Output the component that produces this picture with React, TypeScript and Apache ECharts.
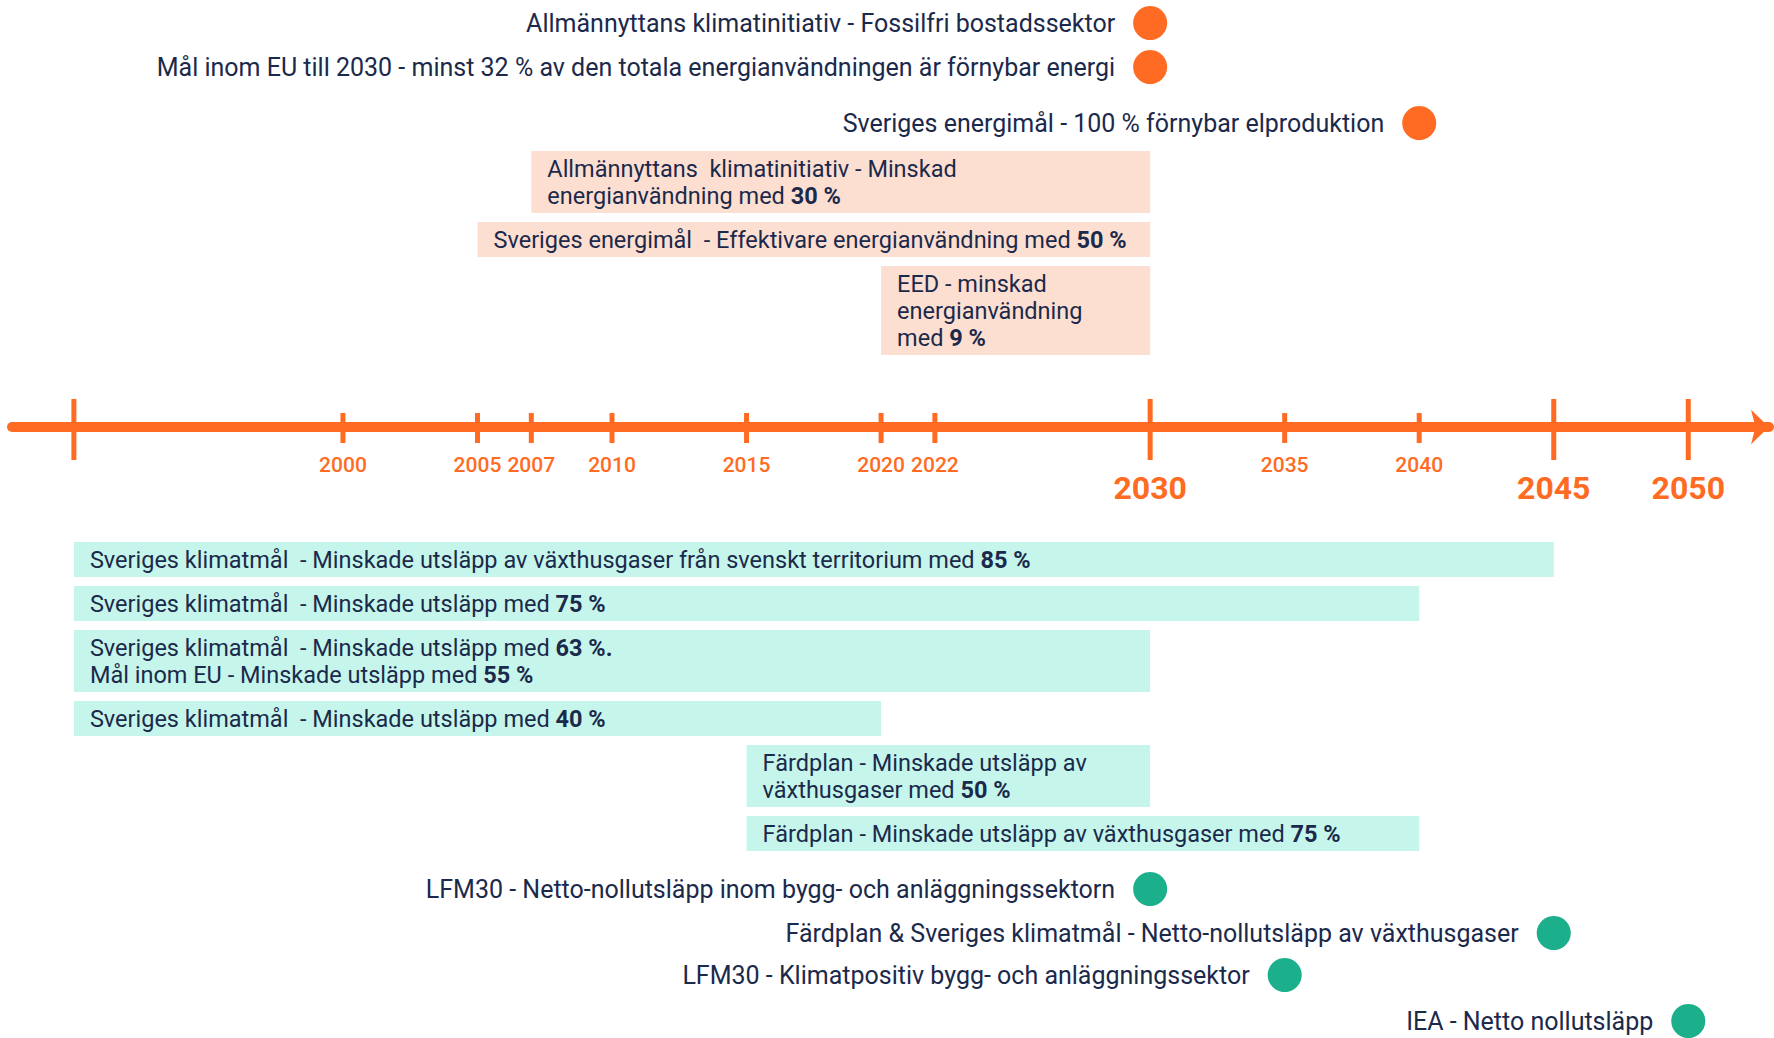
import React, { useEffect, useRef } from "react";
import * as echarts from "echarts";

// ---------------- DATA ----------------
const TICK_YEARS = [1990, 2000, 2005, 2007, 2010, 2015, 2020, 2022, 2030, 2035, 2040, 2045, 2050];
const TICK_LABELS = ["", "2000", "2005", "2007", "2010", "2015", "2020", "2022", "2030", "2035", "2040", "2045", "2050"];
const LONG_TICK_YEARS = [1990, 2030, 2045, 2050];
const BIG_LABEL_YEARS = [2030, 2045, 2050];

const ENERGY_GOALS = [
  "Allmännyttans klimatinitiativ - Fossilfri bostadssektor",
  "Mål inom EU till 2030 - minst 32 % av den totala energianvändningen är förnybar energi",
  "Sveriges energimål - 100 % förnybar elproduktion",
];
const ENERGY_GOAL_YEARS = [2030, 2030, 2040];

const ENERGY_BARS = [
  "Allmännyttans  klimatinitiativ - Minskad\nenergianvändning med **30 %**",
  "Sveriges energimål  - Effektivare energianvändning med **50 %**",
  "EED - minskad\nenergianvändning\nmed **9 %**",
];
const ENERGY_BAR_FROM = [2007, 2005, 2020];
const ENERGY_BAR_TO = [2030, 2030, 2030];

const CLIMATE_BARS = [
  "Sveriges klimatmål  - Minskade utsläpp av växthusgaser från svenskt territorium med **85 %**",
  "Sveriges klimatmål  - Minskade utsläpp med **75 %**",
  "Sveriges klimatmål  - Minskade utsläpp med **63 %.**\nMål inom EU - Minskade utsläpp med **55 %**",
  "Sveriges klimatmål  - Minskade utsläpp med **40 %**",
  "Färdplan - Minskade utsläpp av\nväxthusgaser med **50 %**",
  "Färdplan - Minskade utsläpp av växthusgaser med **75 %**",
];
const CLIMATE_BAR_FROM = [1990, 1990, 1990, 1990, 2015, 2015];
const CLIMATE_BAR_TO = [2045, 2040, 2030, 2020, 2030, 2040];

const NET_ZERO_GOALS = [
  "LFM30 - Netto-nollutsläpp inom bygg- och anläggningssektorn",
  "Färdplan & Sveriges klimatmål - Netto-nollutsläpp av växthusgaser",
  "LFM30 - Klimatpositiv bygg- och anläggningssektor",
  "IEA - Netto nollutsläpp",
];
const NET_ZERO_YEARS = [2030, 2045, 2035, 2050];

// ---------------- STYLE / LAYOUT ----------------
const W = 1774;
const H = 1038;
const AXIS_Y = 427; // timeline position from top
const ORANGE = "#FF6B22";
const TEAL = "#1BAF8C";
const PEACH = "#FDDFD1";
const MINT = "#C6F6EB";
const NAVY = "#1B294B";
const FONT = "Roboto, 'Noto Sans', sans-serif";
const DOT_FS = 25;
const BAR_FS = 23.5;
const LINE_H = 27;
const BAR_PAD = 8;
const BAR_GAP = 9;
const TOP_DOT_LANES = [-404, -360, -304];
const BOTTOM_DOT_LANES = [462, 506, 548, 594];
const ENERGY_STACK_BOTTOM = -72;
const CLIMATE_STACK_TOP = 115;

function lineCount(s: string) {
  return s.split("\n").length;
}

function toRich(s: string) {
  return s
    .split("\n")
    .map((line) =>
      line
        .split("**")
        .map((part, i) => (part ? `{${i % 2 ? "b" : "n"}|${part}}` : ""))
        .join("")
    )
    .join("\n");
}

// stack bars downward from a top (dir = 1) or upward from a bottom (dir = -1)
function stack(labels: string[], start: number, dir: number): [number, number][] {
  const out: [number, number][] = new Array(labels.length);
  let cur = start;
  const order = dir > 0 ? labels.map((_, i) => i) : labels.map((_, i) => labels.length - 1 - i);
  for (const i of order) {
    const h = lineCount(labels[i]) * LINE_H + BAR_PAD;
    if (dir > 0) {
      out[i] = [cur, cur + h];
      cur += h + BAR_GAP;
    } else {
      out[i] = [cur - h, cur];
      cur -= h + BAR_GAP;
    }
  }
  return out;
}

const RICH = {
  n: { fontFamily: FONT, fontSize: BAR_FS, fill: NAVY, color: NAVY, lineHeight: LINE_H },
  b: { fontFamily: FONT, fontSize: BAR_FS, fill: NAVY, color: NAVY, lineHeight: LINE_H, fontWeight: "bold" },
};

function barSeries(labels: string[], from: number[], to: number[], lanes: [number, number][], fill: string) {
  return {
    type: "custom",
    z: 3,
    renderItem: (params: any, api: any) => {
      const i = params.dataIndex;
      const p0 = api.coord([api.value(0), api.value(2)]);
      const p1 = api.coord([api.value(1), api.value(3)]);
      return {
        type: "group",
        children: [
          {
            type: "rect",
            shape: { x: p0[0], y: p0[1], width: p1[0] - p0[0], height: p1[1] - p0[1] },
            style: { fill },
          },
          {
            type: "text",
            x: p0[0] + 16,
            y: (p0[1] + p1[1]) / 2,
            style: {
              text: toRich(labels[i]),
              rich: RICH,
              fill: NAVY,
              font: `${BAR_FS}px ${FONT}`,
              align: "left",
              verticalAlign: "middle",
            },
          },
        ],
      };
    },
    encode: { x: [0, 1], y: [2, 3] },
    data: labels.map((_, i) => [from[i], to[i], lanes[i][0], lanes[i][1]]),
  };
}

function dotSeries(texts: string[], years: number[], lanes: number[], color: string) {
  return {
    type: "scatter",
    z: 4,
    symbol: "circle",
    symbolSize: 34,
    itemStyle: { color, opacity: 1 },
    label: {
      show: true,
      position: "left",
      distance: 18,
      formatter: "{b}",
      color: NAVY,
      fontFamily: FONT,
      fontSize: DOT_FS,
    },
    data: texts.map((t, i) => ({ name: t, value: [years[i], lanes[i]] })),
  };
}

export default function App() {
  const ref = useRef<HTMLDivElement>(null);
  useEffect(() => {
    if (!ref.current) return;
    const chart = echarts.init(ref.current, undefined, { renderer: "svg" });
    const energyLanes = stack(ENERGY_BARS, ENERGY_STACK_BOTTOM, -1);
    const climateLanes = stack(CLIMATE_BARS, CLIMATE_STACK_TOP, 1);
    chart.setOption({
      animation: false,
      backgroundColor: "#ffffff",
      grid: { left: 12, right: 5, top: 0, bottom: 0 },
      xAxis: {
        type: "value",
        min: 1987.7,
        max: 2053,
        axisLine: {
          show: true,
          onZero: true,
          lineStyle: { color: ORANGE, width: 10 },
          symbol: ["none", "arrow"],
          symbolSize: [26, 18],
        },
        axisTick: { show: false },
        axisLabel: { show: false },
        splitLine: { show: false },
      },
      yAxis: {
        type: "value",
        inverse: true,
        min: -AXIS_Y,
        max: H - AXIS_Y,
        show: false,
      },
      series: [
        {
          type: "custom",
          z: 5,
          renderItem: (params: any, api: any) => {
            const year = api.value(0);
            const p = api.coord([year, 0]);
            const long = LONG_TICK_YEARS.indexOf(year) >= 0;
            const big = BIG_LABEL_YEARS.indexOf(year) >= 0;
            return {
              type: "group",
              children: [
                {
                  type: "line",
                  shape: { x1: p[0], y1: p[1] - (long ? 28 : 14), x2: p[0], y2: p[1] + (long ? 33 : 16) },
                  style: { stroke: ORANGE, lineWidth: 5 },
                },
                {
                  type: "text",
                  x: p[0],
                  y: p[1] + (big ? 61 : 38),
                  style: {
                    text: TICK_LABELS[params.dataIndex],
                    fill: ORANGE,
                    font: `${big ? "bold 32px" : "500 21px"} ${FONT}`,
                    align: "center",
                    verticalAlign: "middle",
                  },
                },
              ],
            };
          },
          encode: { x: 0, y: 1 },
          data: TICK_YEARS.map((y) => [y, 0]),
        },
        barSeries(ENERGY_BARS, ENERGY_BAR_FROM, ENERGY_BAR_TO, energyLanes, PEACH),
        barSeries(CLIMATE_BARS, CLIMATE_BAR_FROM, CLIMATE_BAR_TO, climateLanes, MINT),
        dotSeries(ENERGY_GOALS, ENERGY_GOAL_YEARS, TOP_DOT_LANES, ORANGE),
        dotSeries(NET_ZERO_GOALS, NET_ZERO_YEARS, BOTTOM_DOT_LANES, TEAL),
      ],
    });
    return () => chart.dispose();
  }, []);
  return <div ref={ref} style={{ position: "absolute", left: 0, top: 0, width: W, height: H }} />;
}
